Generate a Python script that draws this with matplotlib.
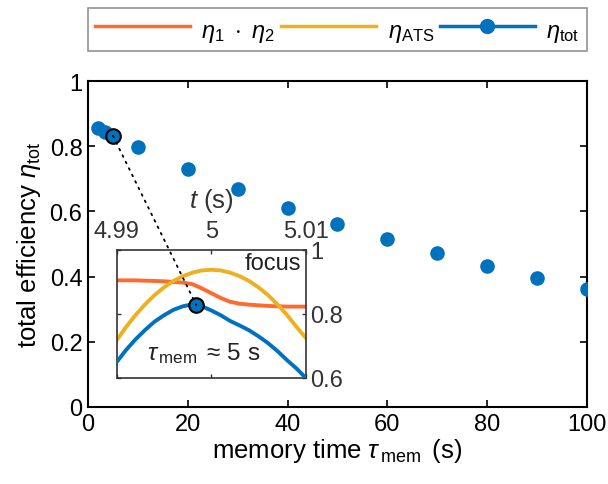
import matplotlib
matplotlib.use("Agg")
import matplotlib.pyplot as plt
from matplotlib.patches import ConnectionPatch

plt.rcParams['font.family'] = ['Liberation Sans', 'DejaVu Sans']
plt.rcParams['mathtext.fontset'] = 'custom'
plt.rcParams['mathtext.rm'] = 'Liberation Sans'
plt.rcParams['mathtext.it'] = 'Liberation Sans:italic'
plt.rcParams['mathtext.bf'] = 'Liberation Sans:bold'

# ---- main data ----
tau_mem = [2, 3.5, 5, 10, 20, 30, 40, 50, 60, 70, 80, 90, 100]
eta_tot = [0.855, 0.845, 0.832, 0.797, 0.730, 0.669, 0.612, 0.561, 0.515, 0.471, 0.432, 0.396, 0.362]
focus_tau = 5
focus_eta = 0.832

# ---- inset data (tau_mem ~ 5 s) ----
t_inset = [4.990, 4.991, 4.992, 4.993, 4.994, 4.995, 4.996, 4.997, 4.998, 4.999, 5.000,
           5.001, 5.002, 5.003, 5.004, 5.005, 5.006, 5.007, 5.008, 5.009, 5.010]
eta12 = [0.905, 0.905, 0.905, 0.904, 0.903, 0.902, 0.900, 0.898, 0.893, 0.880, 0.865,
         0.850, 0.838, 0.832, 0.829, 0.827, 0.825, 0.824, 0.823, 0.823, 0.823]
eta_ats = [0.718, 0.760, 0.797, 0.830, 0.859, 0.883, 0.903, 0.918, 0.929, 0.936, 0.938,
           0.936, 0.929, 0.918, 0.903, 0.883, 0.859, 0.830, 0.797, 0.760, 0.725]
eta_tot_inset = [0.650, 0.688, 0.721, 0.750, 0.776, 0.796, 0.813, 0.824, 0.830, 0.824, 0.811,
                 0.796, 0.778, 0.764, 0.749, 0.730, 0.709, 0.684, 0.656, 0.630, 0.600]
focus_t = 4.9984
focus_inset = 0.829

c_blue = '#0072BD'
c_orange = '#FF6A2F'
c_yellow = '#EDB120'

fig = plt.figure(figsize=(6.08, 4.85), dpi=100)
ax = fig.add_axes([0.1447, 0.1588, 0.8207, 0.672])

ax.plot(tau_mem, eta_tot, linestyle='none', marker='o', markersize=10.5,
        color=c_blue, markeredgewidth=0, zorder=3)
ax.plot([focus_tau], [focus_eta], linestyle='none', marker='o', markersize=10.5,
        markerfacecolor=c_blue, markeredgecolor='black', markeredgewidth=1.5, zorder=4)

ax.set_xlim(0, 100)
ax.set_ylim(0, 1)
ax.set_xticks([0, 20, 40, 60, 80, 100])
ax.set_yticks([0, 0.2, 0.4, 0.6, 0.8, 1])
ax.set_yticklabels(['0', '0.2', '0.4', '0.6', '0.8', '1'])
ax.tick_params(direction='in', top=True, right=True, labelsize=17, length=5, width=1.2, pad=4)
for s in ax.spines.values():
    s.set_linewidth(1.5)
ax.set_xlabel(r'memory time $\tau_{\,\rm mem}\,$ (s)', fontsize=18.5, labelpad=1)
ax.set_ylabel(r'total efficiency $\eta_{\rm tot}$', fontsize=18.5, labelpad=5)

# legend handles
h1, = ax.plot([], [], color=c_orange, lw=2.5)
h2, = ax.plot([], [], color=c_yellow, lw=2.5)
h3, = ax.plot([], [], color=c_blue, lw=2.5, marker='o', markersize=10)
leg = fig.legend([h1, h2, h3],
                 [r'$\eta_1\ \cdot\ \eta_2$', r'$\eta_{\rm ATS}$', r'$\eta_{\rm tot}$'],
                 loc='lower left', bbox_to_anchor=(0.1447, 0.893, 0.8207, 0.097),
                 mode='expand', ncol=3, fontsize=17, frameon=True, fancybox=False,
                 handlelength=4.0, handletextpad=0.5, columnspacing=1.0,
                 handleheight=1.5, borderaxespad=0, borderpad=0.3)
leg.get_frame().set_edgecolor('#777777')
leg.get_frame().set_linewidth(1.2)

# ---- inset ----
axi = fig.add_axes([0.192, 0.2186, 0.311, 0.264])
axi.plot(t_inset, eta12, color=c_orange, lw=2.8, zorder=2)
axi.plot(t_inset, eta_ats, color=c_yellow, lw=2.8, zorder=2)
axi.plot(t_inset, eta_tot_inset, color=c_blue, lw=2.8, zorder=3)
axi.plot([focus_t], [focus_inset], linestyle='none', marker='o', markersize=10.5,
         markerfacecolor=c_blue, markeredgecolor='black', markeredgewidth=1.5, zorder=5)
axi.set_xlim(4.99, 5.01)
axi.set_ylim(0.6, 1.0)
axi.set_xticks([4.99, 5.0, 5.01])
axi.set_xticklabels(['4.99', '5', '5.01'])
axi.set_yticks([0.6, 0.8, 1.0])
axi.set_yticklabels(['0.6', '0.8', '1'])
axi.xaxis.tick_top()
axi.xaxis.set_label_position('top')
axi.yaxis.tick_right()
axi.tick_params(direction='in', top=True, bottom=True, left=True, right=True,
                labelsize=17, length=3, width=1.0, pad=3, colors='#333333',
                labelcolor='#333333')
axi.tick_params(axis='x', pad=6)
axi.set_xlabel(r'$t$ (s)', fontsize=18.5, labelpad=9, color='#333333')
for s in axi.spines.values():
    s.set_linewidth(1.2)
    s.set_color('#333333')
axi.text(0.975, 0.90, 'focus', transform=axi.transAxes, ha='right', va='center',
         fontsize=17, color='#222222')
axi.text(0.16, 0.15, r'$\tau_{\,\rm mem}\,$ ≈ 5 s', transform=axi.transAxes, ha='left',
         va='baseline', fontsize=17.5, color='#222222')

con = ConnectionPatch(xyA=(focus_tau, focus_eta), coordsA=ax.transData,
                      xyB=(focus_t, focus_inset), coordsB=axi.transData,
                      linestyle=(0, (1, 3)), color='black', lw=1.3, zorder=4)
fig.add_artist(con)

fig.savefig('out.png', dpi=100)
